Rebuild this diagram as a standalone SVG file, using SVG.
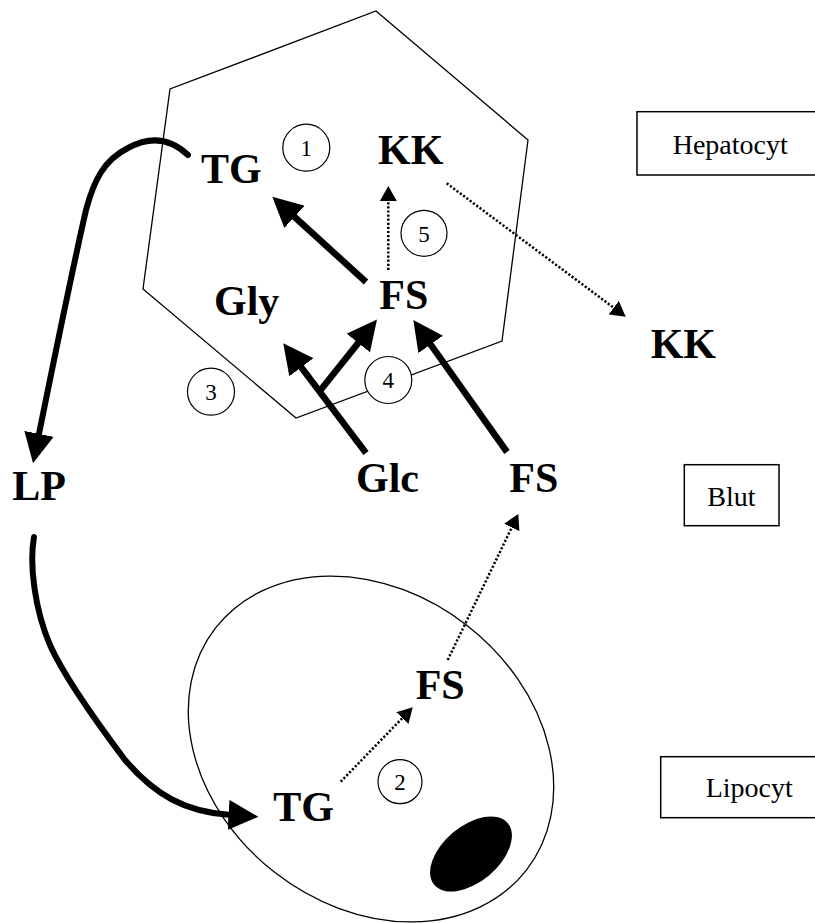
<svg xmlns="http://www.w3.org/2000/svg" width="815" height="923" viewBox="0 0 815 923">
  <style>
    .cell { fill: none; stroke: #000; stroke-width: 1.3; }
    .lbl { font-family: "Liberation Serif", "Times New Roman", serif; font-weight: bold; font-size: 42px; fill: #000; }
    .tag { font-family: "Liberation Serif", "Times New Roman", serif; font-size: 28px; fill: #000; }
    .num { font-family: "Liberation Serif", "Times New Roman", serif; font-size: 23px; fill: #000; text-anchor: middle; }
    .box { fill: #fff; stroke: #000; stroke-width: 1.5; }
    .step { fill: #fff; stroke: #000; stroke-width: 1.2; }
    .flow { fill: none; stroke: #000; stroke-width: 6.5; marker-end: url(#headBig); }
    .curve { fill: none; stroke: #000; stroke-width: 6; stroke-linecap: round; marker-end: url(#headBig); }
    .dot { fill: none; stroke: #000; stroke-width: 2.5; stroke-dasharray: 2.2 1.9; marker-end: url(#headSmall); }
  </style>
  <defs>
    <marker id="headBig" markerUnits="userSpaceOnUse" markerWidth="30" markerHeight="30" refX="2" refY="15" orient="auto">
      <path d="M0,0 L30,15 L0,30 Z" fill="#000"/>
    </marker>
    <marker id="headSmall" markerUnits="userSpaceOnUse" markerWidth="15" markerHeight="17" refX="1" refY="8.5" orient="auto">
      <path d="M0,0 L15,8.5 L0,17 Z" fill="#000"/>
    </marker>
  </defs>

  <rect width="815" height="923" fill="#fff"/>

  <!-- liver cell outline -->
  <g id="hepatocyte">
    <polygon class="cell" points="376,11 528,140 502,341 296,418 143,289 170,89"/>
  </g>

  <!-- fat cell with nucleus -->
  <g id="lipocyte">
    <ellipse class="cell" cx="371" cy="749" rx="197" ry="156.5" transform="rotate(38 371 749)"/>
    <ellipse cx="471" cy="854" rx="48" ry="28" transform="rotate(-40 471 854)" fill="#000"/>
  </g>

  <!-- connectors -->
  <g id="connectors">
    <line class="flow" x1="366" y1="282" x2="293" y2="215.5"/>
    <line class="flow" x1="366" y1="453" x2="300.1" y2="365.7"/>
    <line class="flow" x1="319" y1="392" x2="359.5" y2="341.4"/>
    <line class="flow" x1="507" y1="452" x2="429.5" y2="342.8"/>
    <path class="curve" d="M188,155 C170,138 150,136 128,148 C104,160 94,180 86,210 C78,245 60,330 38.6,435.8"/>
    <path class="curve" d="M34,537 C29,565 35,610 50,645 C62,672 95,720 125,760 C155,795 185,812 230.5,815"/>
    <line class="dot" x1="388.3" y1="270" x2="388.3" y2="200"/>
    <line class="dot" x1="446.7" y1="183.3" x2="614.5" y2="308.3"/>
    <line class="dot" x1="447.7" y1="660" x2="512.2" y2="526.6"/>
    <line class="dot" x1="340.7" y1="781.7" x2="403" y2="717.4"/>
  </g>

  <!-- numbered steps -->
  <g id="step1"><circle class="step" cx="306.3" cy="147.7" r="23.5"/><text class="num" x="306.3" y="156">1</text></g>
  <g id="step2"><circle class="step" cx="400" cy="781.7" r="22"/><text class="num" x="400" y="790">2</text></g>
  <g id="step3"><circle class="step" cx="211" cy="391.7" r="23.5"/><text class="num" x="211" y="400">3</text></g>
  <g id="step4"><circle class="step" cx="388.3" cy="380" r="23.5"/><text class="num" x="388.3" y="388.3">4</text></g>
  <g id="step5"><circle class="step" cx="424" cy="233.3" r="23"/><text class="num" x="424" y="241.6">5</text></g>

  <!-- metabolite labels -->
  <g id="tg-liver"><text class="lbl" x="201" y="183">TG</text></g>
  <g id="kk-liver"><text class="lbl" x="378" y="164">KK</text></g>
  <g id="gly"><text class="lbl" x="214" y="315">Gly</text></g>
  <g id="fs-liver"><text class="lbl" x="379.3" y="309.3">FS</text></g>
  <g id="kk-blood"><text class="lbl" x="650.7" y="358.3">KK</text></g>
  <g id="lp"><text class="lbl" x="12.3" y="500">LP</text></g>
  <g id="glc"><text class="lbl" x="356" y="491.7">Glc</text></g>
  <g id="fs-blood"><text class="lbl" x="509.3" y="491.7">FS</text></g>
  <g id="fs-fat"><text class="lbl" x="415.7" y="699">FS</text></g>
  <g id="tg-fat"><text class="lbl" x="273.3" y="820.7">TG</text></g>

  <!-- compartment legend boxes -->
  <g id="label-hepatocyt">
    <rect class="box" x="637" y="111.7" width="190" height="63.3"/>
    <text class="tag" x="672.7" y="154">Hepatocyt</text>
  </g>
  <g id="label-blut">
    <rect class="box" x="684.3" y="464.7" width="94.7" height="61"/>
    <text class="tag" x="707.3" y="505.7">Blut</text>
  </g>
  <g id="label-lipocyt">
    <rect class="box" x="660.7" y="756.7" width="170" height="61"/>
    <text class="tag" x="705.7" y="796.7">Lipocyt</text>
  </g>
</svg>
